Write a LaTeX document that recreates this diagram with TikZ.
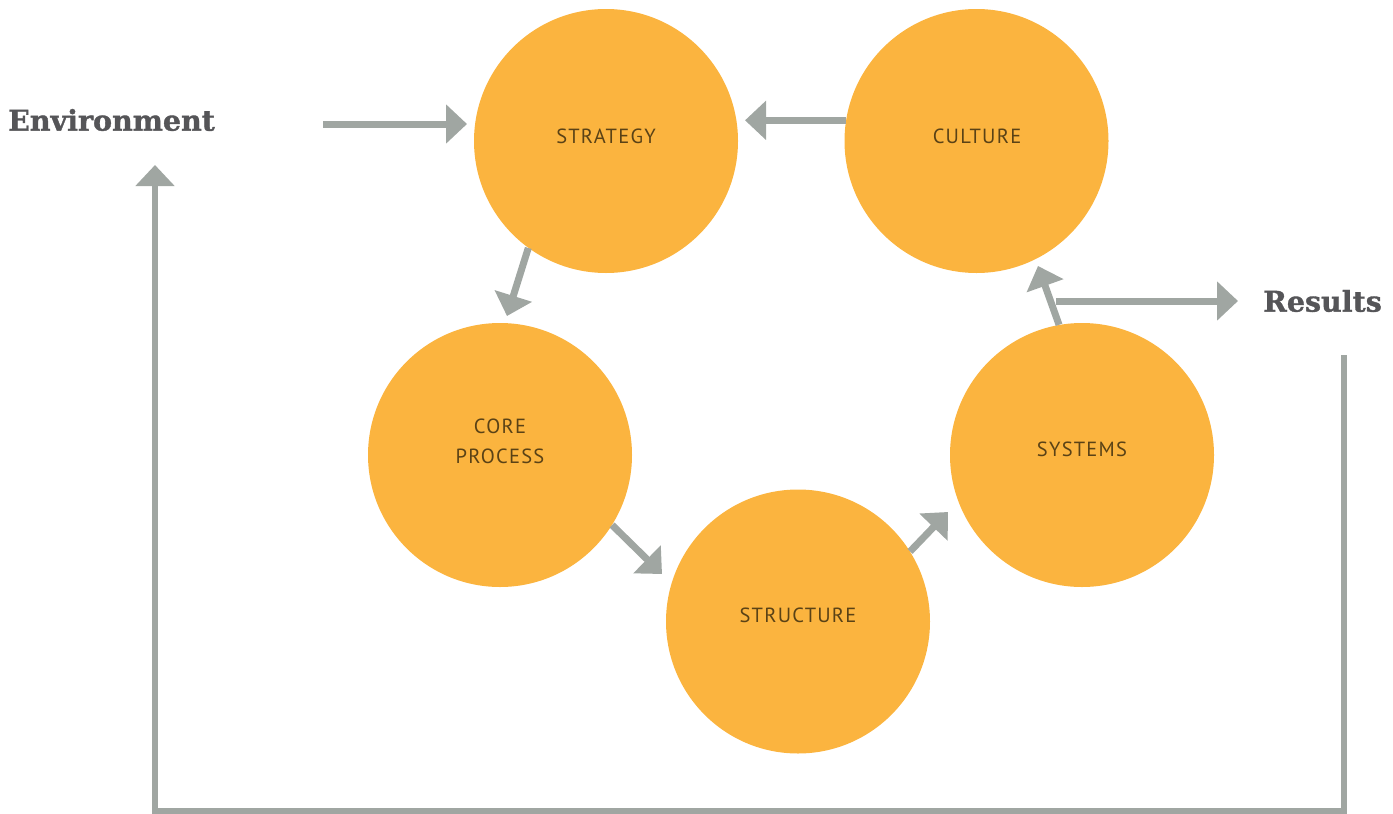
\documentclass[tikz,border=0pt]{standalone}
\usepackage{fontspec}
\setmainfont{PT Sans}
\newfontfamily\slabfont[BoldFeatures={FakeBold=1.2}]{DejaVu Serif}
\newfontfamily\circfont[LetterSpace=6]{PT Sans}
\usetikzlibrary{arrows.meta}
\definecolor{orng}{RGB}{251,180,63}
\definecolor{arrgray}{RGB}{160,166,162}
\definecolor{txtbrown}{RGB}{90,66,22}
\definecolor{labgray}{RGB}{85,85,88}
\begin{document}
\begin{tikzpicture}[x=1pt,y=-1pt,
  bubble/.style={circle,fill=orng,minimum size=264pt,inner sep=0pt},
  bubtext/.style={font=\circfont\fontsize{20.5}{30}\selectfont,text=txtbrown,align=center,inner sep=0pt},
  flow/.style={draw=arrgray,line width=7pt,-{Triangle[length=21pt,width=38pt]}},
  biglabel/.style={font=\slabfont\bfseries\fontsize{28.5}{32}\selectfont,text=labgray,inner sep=0pt}]
\useasboundingbox (0,0) rectangle (1393,814);
\node[bubble] (strategy) at (606,141) {};
\node[bubtext] (tstrategy) at (606,136) {STRATEGY};
\node[bubble] (culture) at (976.5,141) {};
\node[bubtext] (tculture) at (977,136) {CULTURE};
\node[bubble] (core) at (500,455) {};
\node[bubtext] (tcore) at (500,441) {CORE\\PROCESS};
\node[bubble] (structure) at (798,621.5) {};
\node[bubtext] (tstructure) at (798,615) {STRUCTURE};
\node[bubble] (systems) at (1082,455) {};
\node[bubtext] (tsystems) at (1082,449) {SYSTEMS};

\node[biglabel,anchor=west] (env) at (8,120) {Environment};
\node[biglabel,anchor=west] (res) at (1263,301) {Results};

\coordinate (envstart) at (323,124);
\coordinate (envtip) at (467,124);
\coordinate (cstip) at (745,121);
\coordinate (sctip) at (507,316);
\coordinate (cstrtip) at (662,574);
\coordinate (ssytip) at (948,512);
\coordinate (sctip2) at (1038,266);
\coordinate (resstart) at (1056,301);
\coordinate (restip) at (1238,301);
\coordinate (fbtop) at (1344,355);
\coordinate (fbbr) at (1344,811);
\coordinate (fbbl) at (155,811);
\coordinate (fbtip) at (155,165);

\draw[flow] (envstart) -- (envtip);
\draw[flow] (culture.171) -- (cstip |- culture.171);
\draw[flow] (strategy.234.6) -- (sctip);
\draw[flow] (core.328.7) -- (cstrtip);
\draw[flow] (structure.32.7) -- (ssytip);
\draw[flow] (systems.100.5) -- (sctip2);
\draw[flow] (resstart) -- (restip);
\draw[flow,line width=6pt,line join=miter] (fbtop) -- (fbbr) -- (fbbl) -- (fbtip);
\end{tikzpicture}
\end{document}
